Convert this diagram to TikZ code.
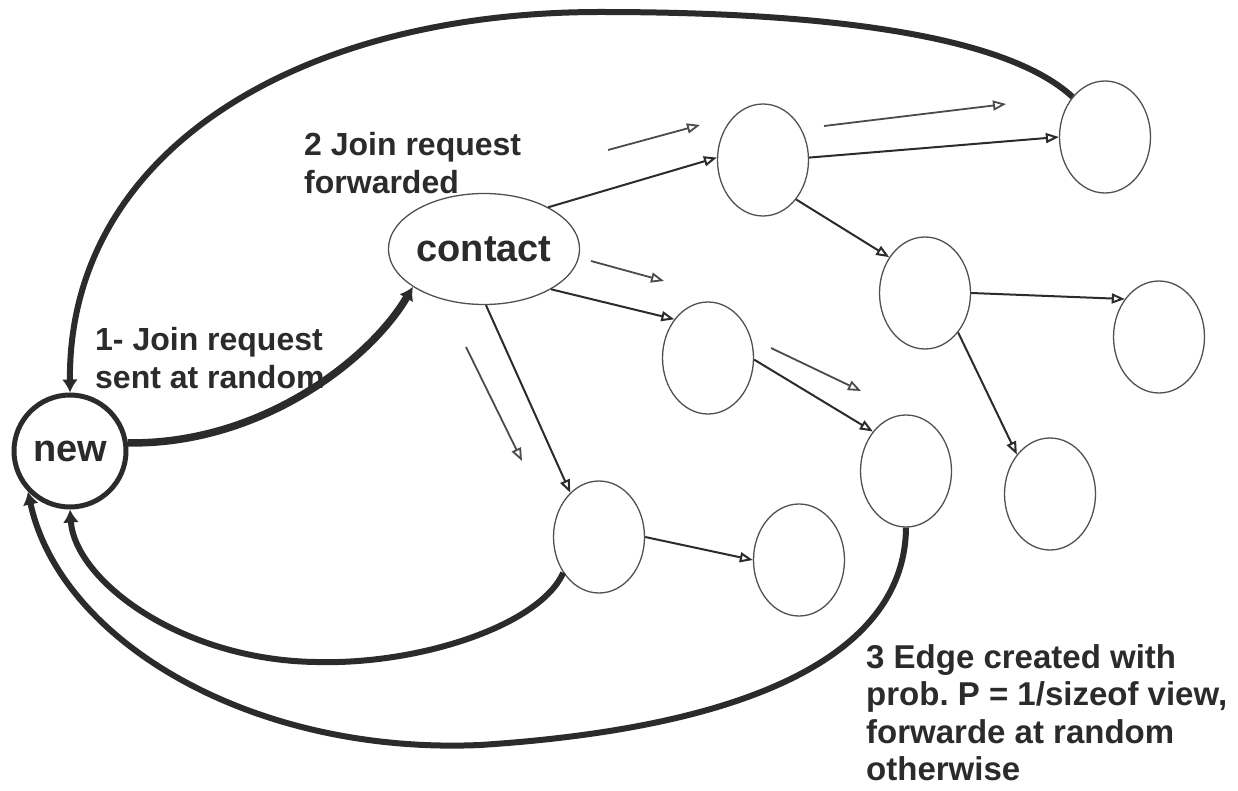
\documentclass[tikz,border=0pt]{standalone}
\usepackage{fontspec}
\setmainfont{Liberation Sans}
\usetikzlibrary{shapes.geometric, arrows.meta, positioning}
\definecolor{Ink}{HTML}{2B2B2B}
\definecolor{Rim}{HTML}{505050}
\frenchspacing

\begin{document}
\begin{tikzpicture}[
    x=1pt,               % one unit = one pixel of the sketch
    y=-1pt,              % rows grow downwards
    peernode/.style={ellipse, draw=Rim, line width=1.3pt, minimum width=91pt, minimum height=112pt, inner sep=0pt},
    fwdedge/.style={draw=Ink, line width=2pt, -{Triangle[open, length=13pt, width=10pt]}},
    fwdhint/.style={draw=Ink!85, line width=1.8pt, -{Triangle[open, length=13pt, width=10pt]}},
    backedge/.style={draw=Ink, line width=6pt, -{Latex[length=13pt, width=16pt]}},
    notetext/.style={anchor=north west, align=left, inner sep=0pt, text=Ink, font=\bfseries\fontsize{32}{38}\selectfont}
]

    % --- Frame ---
    \useasboundingbox (0,0) rectangle (1238,791);

    % --- 1. Joining node and contact ---
    \node[circle, draw=Ink, line width=5pt, minimum size=112pt, inner sep=0pt,
          text=Ink, font=\bfseries\fontsize{38}{40}\selectfont] (new) at (70,451) {new};
    \node[ellipse, draw=Rim, line width=1.3pt, minimum width=180pt, minimum height=111pt, inner sep=0pt,
          text=Ink, font=\bfseries\fontsize{38}{40}\selectfont] (contact) at (484,249) {contact};

    % --- 2. Peers of the overlay ---
    \node[peernode] (p1) at (763,160) {};
    \node[peernode] (p2) at (1105,137) {};
    \node[peernode] (p3) at (925,293) {};
    \node[peernode] (p4) at (1159,337) {};
    \node[peernode] (p5) at (708,358) {};
    \node[peernode] (p6) at (906,471) {};
    \node[peernode] (p7) at (1050,494) {};
    \node[peernode] (p8) at (599,537) {};
    \node[peernode] (p9) at (799,560) {};

    % --- 3. Forwarding links ---
    \draw[fwdedge] (contact.33) -- (p1.177);
    \draw[fwdedge] (p1.3) -- (p2.180);
    \draw[fwdedge] (p1.310) -- (p3.135);
    \draw[fwdedge] (contact.329) -- (p5.131);
    \draw[fwdedge] (contact.272) -- (p8.123);
    \draw[fwdedge] (p3.0) -- (p4.132);
    \draw[fwdedge] (p3.310) -- (p7.130);
    \draw[fwdedge] (p5.-2) -- (p6.130);
    \draw[fwdedge] (p8.0) -- (p9.180);

    % --- 4. Loose arrows showing the walk direction ---
    \coordinate (h1a) at (608,150);  \coordinate (h1b) at (700,125);
    \coordinate (h2a) at (824,126);  \coordinate (h2b) at (1006,104);
    \coordinate (h3a) at (591,261);  \coordinate (h3b) at (664,281);
    \coordinate (h4a) at (771,348);  \coordinate (h4b) at (861,391);
    \coordinate (h5a) at (466,347);  \coordinate (h5b) at (522,461);
    \draw[fwdhint] (h1a) -- (h1b);
    \draw[fwdhint] (h2a) -- (h2b);
    \draw[fwdhint] (h3a) -- (h3b);
    \draw[fwdhint] (h4a) -- (h4b);
    \draw[fwdhint] (h5a) -- (h5b);

    % --- 5. Thick edges to and from the new node ---
    \draw[backedge, line width=7.5pt] (new.8) .. controls (260,445) and (370,360) .. (contact.208);
    \draw[backedge] (p2.129) .. controls (1000,30) and (800,12) .. (600,12)
        .. controls (300,12) and (68,150) .. (new.north);
    \draw[backedge] (p8.225) .. controls (540,625) and (420,665) .. (316,662)
        .. controls (180,660) and (75,580) .. (new.south);
    \draw[backedge] (p6.270) .. controls (905,650) and (760,727) .. (480,745)
        .. controls (250,755) and (60,640) .. (new.224);

    % --- 6. Annotations ---
    \node[notetext] (lbl1) at (95,327) {1- Join request\\sent at random};
    \node[notetext] (lbl2) at (304,132) {2 Join request\\forwarded};
    \node[notetext, font=\bfseries\fontsize{33}{37.5}\selectfont] (lbl3) at (866,644)
        {3 Edge created with\\prob. P = 1/sizeof view,\\forwarde at random\\otherwise};

\end{tikzpicture}
\end{document}
